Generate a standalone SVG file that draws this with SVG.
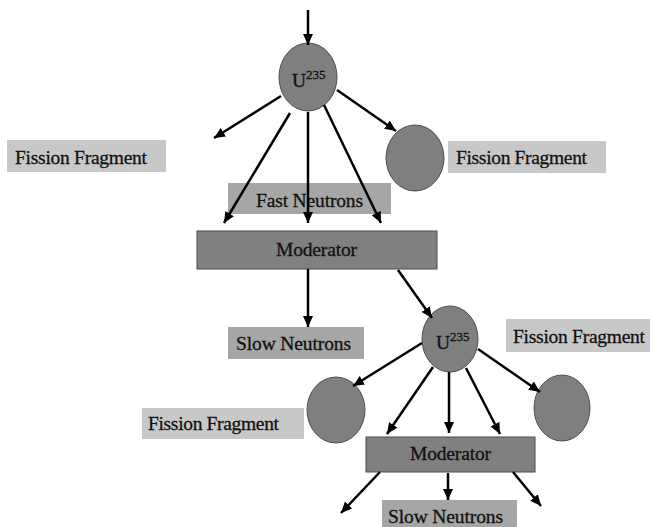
<svg xmlns="http://www.w3.org/2000/svg" width="650" height="527" viewBox="0 0 650 527">
<style>
text{font-family:"Liberation Serif","Times New Roman",serif;font-size:19.5px;fill:#111;stroke:#111;stroke-width:0.3}
.sup{font-size:13px}
.atom{fill:#7f7f7f;stroke:#4d4d4d;stroke-width:1}
.ff{fill:#c8c8c8}
.nb{fill:#a6a6a6}
.mod{fill:#808080;stroke:#4d4d4d;stroke-width:1}
.c line{stroke:#000;stroke-width:2.5;marker-end:url(#ah)}
</style>
<defs>
<marker id="ah" markerUnits="userSpaceOnUse" markerWidth="12" markerHeight="12" viewBox="0 0 12 12" refX="11" refY="6" orient="auto">
<path d="M0,1 L11,6 L0,11 Z" fill="#000"/>
</marker>
</defs>
<g id="fast-neutrons"><rect class="nb" x="228" y="183" width="163" height="31"/><text x="256" y="207" textLength="107">Fast Neutrons</text></g>
<g id="u235-1"><ellipse class="atom" cx="308" cy="77" rx="29" ry="34"/><text x="292" y="87">U<tspan class="sup" dy="-8">235</tspan></text></g>
<g id="ff-left-1"><rect class="ff" x="7" y="140" width="159" height="32"/><text x="15" y="164" textLength="132">Fission Fragment</text></g>
<g id="frag-1"><ellipse class="atom" cx="415" cy="158" rx="29" ry="33"/></g>
<g id="ff-right-1"><rect class="ff" x="448" y="141" width="158" height="32"/><text x="456" y="164" textLength="131">Fission Fragment</text></g>
<g id="moderator-1"><rect class="mod" x="197" y="231" width="240" height="38"/><text x="276" y="256" textLength="81">Moderator</text></g>
<g id="slow-neutrons-1"><rect class="nb" x="228" y="327" width="136" height="32"/><text x="236" y="350" textLength="115">Slow Neutrons</text></g>
<g id="u235-2"><ellipse class="atom" cx="450" cy="339" rx="28" ry="33"/><text x="436" y="349">U<tspan class="sup" dy="-8">235</tspan></text></g>
<g id="ff-right-2"><rect class="ff" x="506" y="319" width="144" height="33"/><text x="513" y="343" textLength="132">Fission Fragment</text></g>
<g id="ff-left-2"><rect class="ff" x="142" y="408" width="162" height="31"/><text x="148" y="430" textLength="131">Fission Fragment</text></g>
<g id="frag-2"><ellipse class="atom" cx="336" cy="410" rx="29" ry="33"/></g>
<g id="frag-3"><ellipse class="atom" cx="562" cy="408" rx="28" ry="33"/></g>
<g id="moderator-2"><rect class="mod" x="366" y="437" width="169" height="35"/><text x="410" y="460" textLength="81">Moderator</text></g>
<g id="slow-neutrons-2"><rect class="nb" x="382" y="500" width="135" height="30"/><text x="388" y="523" textLength="115">Slow Neutrons</text></g>
<g class="c" id="connectors">
<line x1="308" y1="10" x2="308" y2="45"/>
<line x1="281" y1="96" x2="214" y2="138"/>
<line x1="290" y1="113" x2="224" y2="223"/>
<line x1="308" y1="112" x2="308" y2="223"/>
<line x1="324" y1="105" x2="381" y2="223"/>
<line x1="337" y1="90" x2="396" y2="131"/>
<line x1="308" y1="269" x2="308" y2="327"/>
<line x1="398" y1="270" x2="432" y2="318"/>
<line x1="422" y1="343" x2="353" y2="386"/>
<line x1="433" y1="367" x2="387" y2="434"/>
<line x1="449" y1="372" x2="449" y2="433"/>
<line x1="466" y1="368" x2="500" y2="434"/>
<line x1="478" y1="349" x2="540" y2="392"/>
<line x1="380" y1="472" x2="341" y2="513"/>
<line x1="448" y1="473" x2="448" y2="500"/>
<line x1="513" y1="472" x2="541" y2="506"/>
</g>
</svg>
